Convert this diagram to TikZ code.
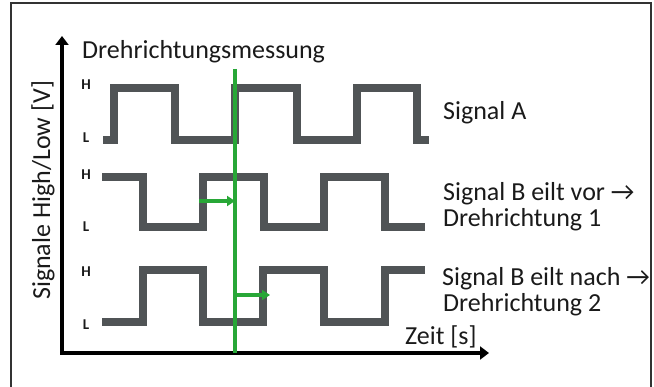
\documentclass[tikz,border=0pt]{standalone}
\usepackage{fontspec}
\setmainfont{Carlito}
\usetikzlibrary{arrows.meta}
\definecolor{sig}{HTML}{505456}
\definecolor{grn}{HTML}{28A737}
\definecolor{txt}{HTML}{1A1A1A}
\tikzset{
  sigline/.style={draw=sig,line width=8pt,miter limit=10,line join=miter},
  axis/.style={draw=black,line width=3.6pt,{Triangle[length=9pt,width=13pt]}-{Triangle[length=9pt,width=13pt]}},
  gline/.style={draw=grn,line width=3.5pt},
  garrow/.style={draw=grn,line width=3.2pt,-{Triangle[length=8pt,width=10pt]}},
  lbl/.style={font=\fontsize{26}{29}\selectfont,text=txt,inner sep=0pt,anchor=base west},
  hl/.style={font=\fontsize{15}{17}\selectfont\bfseries,text=txt,inner sep=0pt},
}
\begin{document}
\begin{tikzpicture}[x=1pt,y=-1pt]
\useasboundingbox (0,0) rectangle (654,387);
% frame
\draw[line width=1.4pt,draw=black!80] (11,395) -- (11,3) -- (651,3) -- (651,395);
% axes
\coordinate (ytop) at (62,36);
\coordinate (orig) at (62,353);
\coordinate (xend) at (489,353);
\draw[axis] (ytop) -- (orig) -- (xend);
% signal A
\draw[sigline] (103,140) -- (113.5,140) -- (113.5,88) -- (175,88) -- (175,140) -- (235,140) -- (235,88) -- (296.5,88) -- (296.5,140) -- (356.5,140) -- (356.5,88) -- (417,88) -- (417,140) -- (429,140);
% signal B
\draw[sigline] (102,177) -- (142.5,177) -- (142.5,227.5) -- (203,227.5) -- (203,177) -- (264,177) -- (264,227.5) -- (324,227.5) -- (324,177) -- (385,177) -- (385,227.5) -- (425,227.5);
% signal C
\draw[sigline] (102,322) -- (142.5,322) -- (142.5,270) -- (202.5,270) -- (202.5,322) -- (263,322) -- (263,270) -- (323.5,270) -- (323.5,322) -- (385,322) -- (385,270) -- (425,270);
% green measurement line
\coordinate (gtop) at (235,69);
\coordinate (gbot) at (235,353);
\draw[gline] (gtop) -- (gbot);
\coordinate (a1s) at (199,201);
\coordinate (a1e) at (235,201);
\coordinate (a2s) at (235,295);
\coordinate (a2e) at (270,295);
\draw[garrow] (a1s) -- (a1e);
\draw[garrow] (a2s) -- (a2e);
% H/L labels
\node[hl] (h1) at (86,85) {H};
\node[hl] (l1) at (86,138) {L};
\node[hl] (h2) at (86,175) {H};
\node[hl] (l2) at (86,227) {L};
\node[hl] (h3) at (86,272) {H};
\node[hl] (l3) at (86,325) {L};
% texts
\node[lbl] (title) at (82,59) {Drehrichtungsmessung};
\node[lbl] (sa) at (443,120) {Signal A};
\node[lbl] (sb1) at (443,200.5) {Signal B eilt vor →};
\node[lbl] (sb2) at (443,226.5) {Drehrichtung 1};
\node[lbl] (sc1) at (442,286) {Signal B eilt nach →};
\node[lbl] (sc2) at (443,312) {Drehrichtung 2};
\node[lbl] (zeit) at (405,345) {Zeit [s]};
\node[lbl,rotate=90] (ylab) at (50,300) {Signale High/Low [V]};
\end{tikzpicture}
\end{document}
